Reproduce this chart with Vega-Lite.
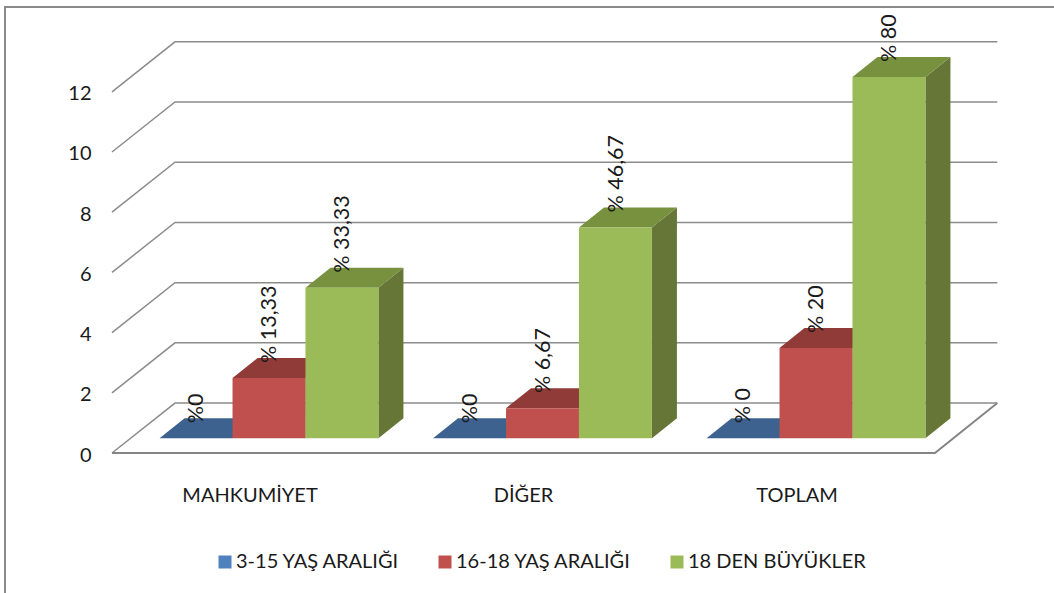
{
  "$schema": "https://vega.github.io/schema/vega-lite/v6.json",
  "width": 1050,
  "height": 587,
  "autosize": "none",
  "padding": {"left": 5, "top": 7, "right": 0, "bottom": 0},
  "background": "white",
  "view": {"stroke": "#8a8a8a", "strokeWidth": 2},
  "config": {"font": "Lato", "text": {"font": "Lato"}},
  "datasets": {
    "ticks": [{"tick": 0}, {"tick": 2}, {"tick": 4}, {"tick": 6}, {"tick": 8}, {"tick": 10}, {"tick": 12}],
    "categories": [{"category": "MAHKUMİYET", "slot": 0}, {"category": "DİĞER", "slot": 1}, {"category": "TOPLAM", "slot": 2}],
    "bars": [
      {"category": "MAHKUMİYET", "slot": 0, "series": "3-15 YAŞ ARALIĞI", "rank": 0, "value": 0, "label": "%0"},
      {"category": "MAHKUMİYET", "slot": 0, "series": "16-18 YAŞ ARALIĞI", "rank": 1, "value": 2, "label": "% 13,33"},
      {"category": "MAHKUMİYET", "slot": 0, "series": "18 DEN BÜYÜKLER", "rank": 2, "value": 5, "label": "% 33,33"},
      {"category": "DİĞER", "slot": 1, "series": "3-15 YAŞ ARALIĞI", "rank": 0, "value": 0, "label": "%0"},
      {"category": "DİĞER", "slot": 1, "series": "16-18 YAŞ ARALIĞI", "rank": 1, "value": 1, "label": "% 6,67"},
      {"category": "DİĞER", "slot": 1, "series": "18 DEN BÜYÜKLER", "rank": 2, "value": 7, "label": "% 46,67"},
      {"category": "TOPLAM", "slot": 2, "series": "3-15 YAŞ ARALIĞI", "rank": 0, "value": 0, "label": "% 0"},
      {"category": "TOPLAM", "slot": 2, "series": "16-18 YAŞ ARALIĞI", "rank": 1, "value": 3, "label": "% 20"},
      {"category": "TOPLAM", "slot": 2, "series": "18 DEN BÜYÜKLER", "rank": 2, "value": 12, "label": "% 80"}
    ]
  },
  "encoding": {
    "x": {"field": "px", "type": "quantitative", "axis": null, "scale": {"domain": [-0.39123, 3.4479], "nice": false, "zero": false}},
    "y": {
      "field": "py",
      "type": "quantitative",
      "stack": null,
      "scale": {"domain": [-4.684, 14.817], "nice": false, "zero": false},
      "axis": {
        "title": null,
        "values": [0, 2, 4, 6, 8, 10, 12],
        "grid": false,
        "domain": false,
        "ticks": false,
        "offset": -107,
        "labelPadding": 21,
        "labelOffset": 2,
        "labelFont": "Lato",
        "labelFontSize": 20,
        "labelColor": "#1a1a1a"
      }
    }
  },
  "layer": [
    {
      "description": "Back wall rules with their diagonals across the side wall",
      "data": {"name": "ticks"},
      "transform": [
        {"fold": ["p0", "p1", "p2"], "as": ["vertex", "unused"]},
        {"calculate": "datum.vertex === 'p0' ? 0 : datum.vertex === 'p1' ? 0.2303 : 3.237", "as": "px"},
        {"calculate": "datum.tick + (datum.vertex === 'p0' ? 0 : 1.66)", "as": "py"}
      ],
      "mark": {"type": "line", "color": "#8c8c8c", "strokeWidth": 1.5},
      "encoding": {"detail": {"field": "tick"}}
    },
    {
      "description": "Front and right edges of the floor",
      "data": {"name": "ticks"},
      "transform": [
        {"filter": "datum.tick === 0"},
        {"fold": ["p0", "p1", "p2"], "as": ["vertex", "unused"]},
        {"calculate": "datum.vertex === 'p0' ? 0 : datum.vertex === 'p1' ? 3.009 : 3.237", "as": "px"},
        {"calculate": "datum.vertex === 'p2' ? 1.66 : 0", "as": "py"}
      ],
      "mark": {"type": "line", "color": "#858585", "strokeWidth": 2}
    },
    {
      "description": "Bars: top and side faces first, then the fronts, then the value labels",
      "data": {"name": "bars"},
      "transform": [
        {"calculate": "datum.slot + 0.174 + datum.rank * 0.2667", "as": "xl"},
        {"calculate": "datum.xl + 0.2667", "as": "xr"},
        {"calculate": "0.49", "as": "v0"},
        {"calculate": "datum.value + 0.49", "as": "v1"}
      ],
      "layer": [
        {
          "transform": [
            {"fold": ["p0", "p1"], "as": ["vertex", "unused"]},
            {"calculate": "datum.vertex === 'p0' ? datum.xr : datum.xr + 0.0914", "as": "px"},
            {"calculate": "datum.vertex === 'p0' ? datum.v1 : datum.v1 + 0.664", "as": "py"},
            {"calculate": "datum.vertex === 'p0' ? datum.v0 : datum.v0 + 0.664", "as": "py2"}
          ],
          "mark": {"type": "area", "orient": "vertical"},
          "encoding": {
            "y2": {"field": "py2"},
            "detail": {"field": "category"},
            "color": {
              "field": "series",
              "legend": null,
              "scale": {
                "domain": ["3-15 YAŞ ARALIĞI", "16-18 YAŞ ARALIĞI", "18 DEN BÜYÜKLER"],
                "range": ["#34557c", "#7e312f", "#657637"]
              }
            }
          }
        },
        {
          "transform": [
            {"fold": ["p0", "p1", "p2", "p3"], "as": ["vertex", "unused"]},
            {"calculate": "datum.vertex === 'p0' ? datum.xl : datum.vertex === 'p1' ? datum.xl + 0.0914 : datum.vertex === 'p2' ? datum.xr : datum.xr + 0.0914", "as": "px"},
            {"calculate": "datum.vertex === 'p0' ? datum.v1 : datum.v1 + 0.664", "as": "py"},
            {"calculate": "datum.vertex === 'p3' ? datum.v1 + 0.664 : datum.v1", "as": "py2"}
          ],
          "mark": {"type": "area", "orient": "vertical"},
          "encoding": {
            "y2": {"field": "py2"},
            "detail": {"field": "category"},
            "color": {
              "field": "series",
              "legend": null,
              "scale": {
                "domain": ["3-15 YAŞ ARALIĞI", "16-18 YAŞ ARALIĞI", "18 DEN BÜYÜKLER"],
                "range": ["#3d6290", "#913b38", "#77913f"]
              }
            }
          }
        },
        {
          "transform": [
            {"calculate": "datum.xl", "as": "px"},
            {"calculate": "datum.v1", "as": "py"}
          ],
          "mark": {"type": "rect"},
          "encoding": {
            "x2": {"field": "xr"},
            "y2": {"field": "v0"},
            "color": {
              "field": "series",
              "scale": {
                "domain": ["3-15 YAŞ ARALIĞI", "16-18 YAŞ ARALIĞI", "18 DEN BÜYÜKLER"],
                "range": ["#4f81bd", "#c0504d", "#9bbb59"]
              },
              "legend": {
                "title": null,
                "orient": "none",
                "direction": "horizontal",
                "legendX": 210,
                "legendY": 545,
                "padding": 0,
                "symbolType": "square",
                "symbolSize": 169,
                "symbolStrokeWidth": 0,
                "columnPadding": 35,
                "labelOffset": 1,
                "labelFont": "Lato",
                "labelFontSize": 20,
                "labelColor": "#1a1a1a",
                "labelLimit": 300
              }
            }
          }
        },
        {
          "transform": [
            {"calculate": "datum.xl + 0.1333 + 0.004", "as": "px"},
            {"calculate": "datum.v1 + 0.5", "as": "py"}
          ],
          "mark": {"type": "text", "angle": 270, "align": "left", "baseline": "middle", "font": "Lato", "fontSize": 21.5, "color": "#1a1a1a"},
          "encoding": {"text": {"field": "label"}}
        }
      ],
      "resolve": {"scale": {"color": "independent"}}
    },
    {
      "description": "Category names under the floor",
      "data": {"name": "categories"},
      "transform": [
        {"calculate": "datum.slot + 0.5046", "as": "px"},
        {"calculate": "0", "as": "py"}
      ],
      "mark": {"type": "text", "align": "center", "baseline": "middle", "dy": 43, "font": "Lato", "fontSize": 20, "color": "#1a1a1a"},
      "encoding": {"text": {"field": "category"}}
    }
  ],
  "resolve": {"scale": {"color": "independent"}}
}
